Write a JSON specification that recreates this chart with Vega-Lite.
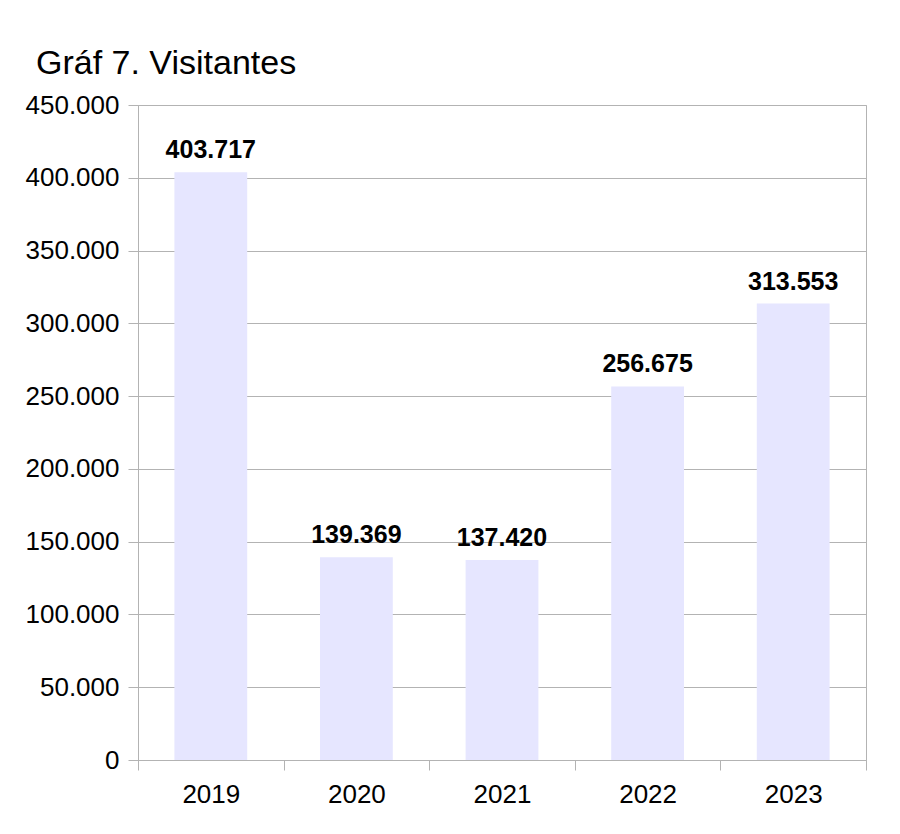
{
  "$schema": "https://vega.github.io/schema/vega-lite/v6.json",
  "width": 728,
  "height": 655,
  "autosize": {"type": "none"},
  "padding": {"left": 138, "top": 105, "right": 34, "bottom": 74},
  "background": "white",
  "title": {
    "text": "Gráf 7. Visitantes",
    "anchor": "start",
    "frame": "group",
    "dx": -102,
    "offset": -16,
    "baseline": "alphabetic",
    "font": "Liberation Sans",
    "fontSize": 34,
    "fontWeight": "normal",
    "color": "#000000"
  },
  "data": {
    "values": [
      {"year": "2019", "visitors": 403717},
      {"year": "2020", "visitors": 139369},
      {"year": "2021", "visitors": 137420},
      {"year": "2022", "visitors": 256675},
      {"year": "2023", "visitors": 313553}
    ]
  },
  "encoding": {
    "x": {
      "field": "year",
      "type": "nominal",
      "title": null,
      "scale": {"paddingInner": 0, "paddingOuter": 0},
      "axis": {
        "labelAngle": 0,
        "tickBand": "extent",
        "tickSize": 10,
        "tickColor": "#b3b3b3",
        "domainColor": "#b3b3b3",
        "grid": false,
        "labelFont": "Liberation Sans",
        "labelFontSize": 26,
        "labelColor": "#000000",
        "labelPadding": 11
      }
    },
    "y": {
      "field": "visitors",
      "type": "quantitative",
      "title": null,
      "scale": {"domain": [0, 450000], "nice": false},
      "axis": {
        "values": [0, 50000, 100000, 150000, 200000, 250000, 300000, 350000, 400000, 450000],
        "format": ",d",
        "tickSize": 10,
        "tickColor": "#b3b3b3",
        "domainColor": "#b3b3b3",
        "gridColor": "#b3b3b3",
        "labelFont": "Liberation Sans",
        "labelFontSize": 26,
        "labelColor": "#000000",
        "labelPadding": 9
      }
    }
  },
  "layer": [
    {"mark": {"type": "bar", "color": "#e6e6ff", "width": {"band": 0.5}}},
    {
      "mark": {
        "type": "text",
        "baseline": "alphabetic",
        "dy": -14,
        "font": "Liberation Sans",
        "fontSize": 25,
        "fontWeight": "bold",
        "color": "#000000"
      },
      "encoding": {
        "text": {"field": "visitors", "type": "quantitative", "format": ",d"}
      }
    }
  ],
  "config": {
    "locale": {
      "number": {"decimal": ",", "thousands": ".", "grouping": [3], "currency": ["", " €"]}
    },
    "view": {"stroke": "#b3b3b3"}
  }
}
